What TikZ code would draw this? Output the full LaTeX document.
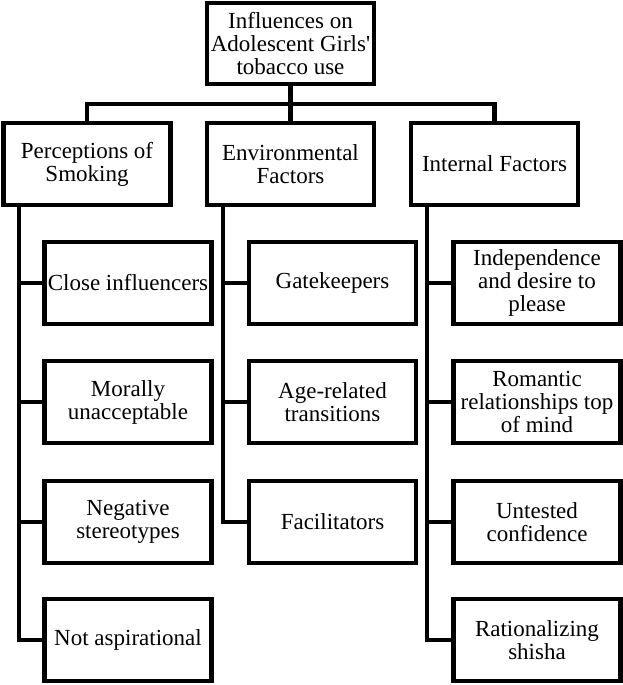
\documentclass[tikz,border=0pt]{standalone}
\usepackage{fontspec}
\setmainfont{Liberation Serif}

\tikzset{
	box/.style={draw, line width=4.2pt, minimum width=167pt, minimum height=82pt, inner sep=2pt, align=center, font=\fontsize{23}{23}\selectfont},
	link/.style={line width=4.2pt}
}

\begin{document}
\begin{tikzpicture}[x=1pt, y=-1pt]

		\useasboundingbox (0,0) rectangle (623,685);

		% define boxes

		\node[box, minimum height=81pt] (top) at (290.5, 43.5) {Influences on\\Adolescent Girls\textquotesingle\\tobacco use};

		\node[box] (per) at (87, 164) {Perceptions of\\Smoking};

		\node[box] (env) at (290.5, 164) {Environmental\\Factors};

		\node[box] (int) at (494.5, 164) {Internal Factors};

		\node[box] (cl) at (128, 283) {Close influencers};

		\node[box] (mu) at (128, 402) {Morally\\unacceptable};

		\node[box] (ns) at (128, 522) {Negative\\stereotypes};

		\node[box] (na) at (128, 640) {Not aspirational};

		\node[box] (gk) at (332.5, 283) {Gatekeepers};

		\node[box] (ar) at (332.5, 402) {Age-related\\transitions};

		\node[box] (fa) at (332.5, 522) {Facilitators};

		\node[box] (ind) at (537, 283) {Independence\\and desire to\\please};

		\node[box] (rr) at (537, 402) {Romantic\\relationships top\\of mind};

		\node[box] (uc) at (537, 522) {Untested\\confidence};

		\node[box] (rs) at (537, 640) {Rationalizing\\shisha};

		% define point

		\coordinate (busL) at (87, 104);

		\coordinate (busR) at (494.5, 104);

		\coordinate (spL) at (19, 205);

		\coordinate (spM) at (223, 205);

		\coordinate (spR) at (427, 205);

		% bus

		\draw[link] (top.south) -- (env.north);

		\draw[link] (per.north) -- (busL) -- (busR) -- (int.north);

		% spines

		\draw[link] (spL) |- (cl.west);

		\draw[link] (spL) |- (mu.west);

		\draw[link] (spL) |- (ns.west);

		\draw[link] (spL) |- (na.west);

		\draw[link] (spM) |- (gk.west);

		\draw[link] (spM) |- (ar.west);

		\draw[link] (spM) |- (fa.west);

		\draw[link] (spR) |- (ind.west);

		\draw[link] (spR) |- (rr.west);

		\draw[link] (spR) |- (uc.west);

		\draw[link] (spR) |- (rs.west);

	\end{tikzpicture}
\end{document}
